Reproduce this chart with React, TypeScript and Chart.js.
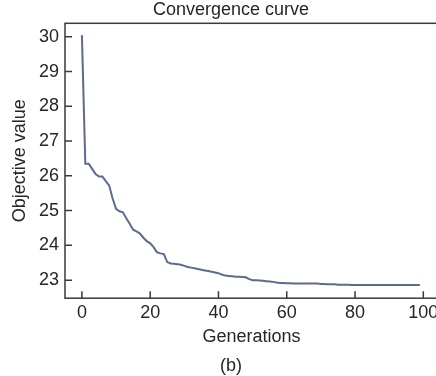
import React, { useEffect, useRef } from "react";
import { Chart, registerables } from "chart.js";

Chart.register(...registerables);

const titleText = "Convergence curve";
const subtitleText = "(b)";
const xTitle = "Generations";
const yTitle = "Objective value";

const xTicks = [0, 20, 40, 60, 80, 100];
const yTicks = [23, 24, 25, 26, 27, 28, 29, 30];

// objective value per generation (generation = index 0..99)
const objective = [
  30.05, 26.35, 26.35, 26.2, 26.05, 25.98, 25.98, 25.85, 25.72, 25.35,
  25.05, 24.98, 24.95, 24.78, 24.62, 24.45, 24.4, 24.34, 24.22, 24.12,
  24.06, 23.95, 23.8, 23.77, 23.75, 23.52, 23.48, 23.47, 23.46, 23.44,
  23.41, 23.38, 23.36, 23.34, 23.32, 23.3, 23.28, 23.26, 23.24, 23.22,
  23.2, 23.16, 23.13, 23.12, 23.11, 23.1, 23.1, 23.09, 23.08, 23.03,
  23.0, 23.0, 22.99, 22.98, 22.97, 22.96, 22.95, 22.93, 22.92, 22.92,
  22.91, 22.91, 22.9, 22.9, 22.9, 22.9, 22.9, 22.9, 22.9, 22.9,
  22.89, 22.89, 22.88, 22.88, 22.88, 22.87, 22.87, 22.87, 22.87, 22.86,
  22.86, 22.86, 22.86, 22.86, 22.86, 22.86, 22.86, 22.86, 22.86, 22.86,
  22.86, 22.86, 22.86, 22.86, 22.86, 22.86, 22.86, 22.86, 22.86, 22.86,
];

const FONT = "'Liberation Sans', Arial, Helvetica, sans-serif";
const TEXT = "#262626";
const AXIS = "#3a3a3a";
const LINE = "#5e6a8e";

const framePlugin = {
  id: "frameTicks",
  afterDatasetsDraw(chart: any) {
    const { ctx, chartArea, scales } = chart;
    const { left, right, top, bottom } = chartArea;
    ctx.save();
    ctx.strokeStyle = AXIS;
    ctx.lineWidth = 1.5;
    ctx.strokeRect(left, top, right - left, bottom - top);
    ctx.beginPath();
    xTicks.forEach((v) => {
      const px = scales.x.getPixelForValue(v);
      ctx.moveTo(px, bottom);
      ctx.lineTo(px, bottom - 7);
    });
    yTicks.forEach((v) => {
      const py = scales.y.getPixelForValue(v);
      ctx.moveTo(left, py);
      ctx.lineTo(left + 7, py);
    });
    ctx.stroke();
    ctx.restore();
  },
};

export default function App() {
  const ref = useRef<HTMLCanvasElement | null>(null);

  useEffect(() => {
    if (!ref.current) return;
    Chart.defaults.font.family = FONT;
    Chart.defaults.color = TEXT;
    const chart = new Chart(ref.current, {
      type: "line",
      data: {
        datasets: [
          {
            data: objective.map((v, i) => ({ x: i, y: v })),
            borderColor: LINE,
            borderWidth: 2,
            pointRadius: 0,
            tension: 0,
            fill: false,
            yAxisID: "y",
          },
        ],
      },
      options: {
        animation: false,
        responsive: false,
        maintainAspectRatio: false,
        layout: { padding: 0 },
        plugins: {
          legend: { display: false },
          tooltip: { enabled: false },
          title: {
            display: true,
            text: titleText,
            color: TEXT,
            font: { size: 18, weight: "normal", lineHeight: 1.1 },
            padding: { top: 0, bottom: 3.5 },
          },
          subtitle: {
            display: true,
            position: "bottom",
            text: subtitleText,
            color: TEXT,
            font: { size: 18, weight: "normal", lineHeight: 1.1 },
            padding: { top: 0, bottom: 0 },
          },
        },
        scales: {
          x: {
            type: "linear",
            min: -4.95,
            max: 104.3,
            afterBuildTicks: (scale: any) => {
              scale.ticks = xTicks.map((v) => ({ value: v }));
            },
            afterFit: (scale: any) => {
              scale.height = 58;
            },
            grid: { display: false, drawTicks: false },
            border: { display: false },
            ticks: {
              color: TEXT,
              font: { size: 18 },
              padding: 4,
              maxRotation: 0,
              autoSkip: false,
            },
            title: {
              display: true,
              text: xTitle,
              color: TEXT,
              font: { size: 18 },
              padding: { top: 0, bottom: 8 },
            },
          },
          y: {
            type: "linear",
            position: "left",
            min: 22.48,
            max: 30.39,
            afterBuildTicks: (scale: any) => {
              scale.ticks = yTicks.map((v) => ({ value: v }));
            },
            afterFit: (scale: any) => {
              scale.width = 65;
            },
            grid: { display: false, drawTicks: false },
            border: { display: false },
            ticks: {
              color: TEXT,
              font: { size: 18 },
              padding: 6,
              autoSkip: false,
            },
            title: {
              display: true,
              text: yTitle,
              color: TEXT,
              font: { size: 18 },
              padding: { top: 9, bottom: 0 },
            },
          },
          yRight: {
            type: "linear",
            position: "right",
            min: 22.48,
            max: 30.39,
            afterFit: (scale: any) => {
              scale.width = 24;
            },
            grid: { display: false, drawTicks: false },
            border: { display: false },
            ticks: { display: false },
          },
        },
      },
      plugins: [framePlugin],
    });
    return () => chart.destroy();
  }, []);

  return (
    <div
      style={{
        position: "absolute",
        left: 0,
        top: 0,
        width: 436,
        height: 376,
        overflow: "hidden",
        background: "#fff",
      }}
    >
      <canvas ref={ref} width={462} height={376} style={{ display: "block" }} />
    </div>
  );
}
